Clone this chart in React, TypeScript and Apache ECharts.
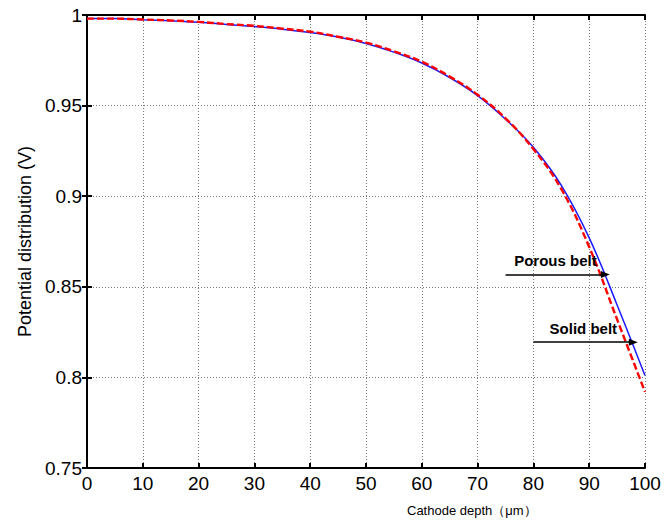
import React, { useEffect, useRef } from "react";
import * as echarts from "echarts";

const depth = [0, 5, 10, 15, 20, 25, 30, 35, 40, 45, 50, 55, 60, 65, 70, 75, 80, 85, 90, 95, 100];
const blueCurve = [0.998, 0.998, 0.9974, 0.9968, 0.996, 0.9948, 0.9936, 0.9922, 0.9903, 0.9878, 0.9843, 0.9795, 0.9735, 0.9655, 0.9555, 0.9425, 0.927, 0.906, 0.877, 0.84, 0.801];
const redCurve = [0.998, 0.998, 0.9975, 0.997, 0.9962, 0.995, 0.994, 0.9925, 0.9908, 0.988, 0.9848, 0.98, 0.9742, 0.966, 0.956, 0.943, 0.926, 0.904, 0.872, 0.832, 0.792];
const xTicks = { min: 0, max: 100, interval: 10 };
const yTicks = { min: 0.75, max: 1, interval: 0.05 };
const annotations = [
  { text: "Porous belt", x0: 75, x1: 92.9, y: 0.8568 },
  { text: "Solid belt", x0: 80, x1: 97.9, y: 0.8194 },
];

const FONT = "'Liberation Sans', Arial, Helvetica, sans-serif";

export default function App() {
  const ref = useRef<HTMLDivElement>(null);
  useEffect(() => {
    document.body.style.margin = "0";
    if (!ref.current) return;
    const chart = echarts.init(ref.current, null, { renderer: "svg" });
    const axisLine = { show: true, lineStyle: { color: "#000", width: 2 } };
    const tick = { show: true, inside: true, length: 5, lineStyle: { color: "#000", width: 2 } };
    const grid = { show: true, lineStyle: { color: "#777", type: [1, 2], width: 1 } };
    chart.setOption({
      animation: false,
      backgroundColor: "#fff",
      grid: { left: 87, right: 25, top: 15, bottom: 53 },
      xAxis: [
        {
          type: "value",
          ...xTicks,
          axisLine,
          axisTick: tick,
          splitLine: grid,
          axisLabel: { color: "#000", fontSize: 19, fontFamily: FONT, margin: 6 },
        },
        {
          type: "value",
          position: "top",
          ...xTicks,
          axisLine,
          axisTick: tick,
          splitLine: { show: false },
          axisLabel: { show: false },
        },
      ],
      yAxis: [
        {
          type: "value",
          ...yTicks,
          axisLine,
          axisTick: tick,
          splitLine: grid,
          axisLabel: { color: "#000", fontSize: 19, fontFamily: FONT, margin: 5 },
          name: "Potential distribution (V)",
          nameLocation: "middle",
          nameGap: 50,
          nameTextStyle: { color: "#000", fontSize: 18, fontFamily: FONT },
        },
        {
          type: "value",
          position: "right",
          ...yTicks,
          axisLine,
          axisTick: tick,
          splitLine: { show: false },
          axisLabel: { show: false },
        },
      ],
      graphic: [
        {
          type: "text",
          left: 407,
          top: 504,
          style: { text: "Cathode depth（μm）", fontSize: 13, fontFamily: FONT, fill: "#000" },
        },
      ],
      series: [
        {
          name: "Blue curve",
          type: "line",
          data: depth.map((x, i) => [x, blueCurve[i]]),
          smooth: 0.4,
          showSymbol: false,
          lineStyle: { color: "#1a1aff", width: 1.5 },
          z: 2,
        },
        {
          name: "Red curve",
          type: "line",
          data: depth.map((x, i) => [x, redCurve[i]]),
          smooth: 0.4,
          showSymbol: false,
          lineStyle: { color: "#ff0000", width: 2.4, type: [7, 3] },
          z: 3,
          markLine: {
            silent: true,
            symbol: ["none", "triangle"],
            symbolSize: [7, 9],
            lineStyle: { color: "#000", width: 1.5, type: "solid" },
            label: {
              show: true,
              position: "insideMiddleTop",
              distance: 6,
              color: "#000",
              fontSize: 15,
              fontWeight: "bold",
              fontFamily: FONT,
            },
            data: annotations.map((a) => [
              { coord: [a.x0, a.y], label: { formatter: a.text } },
              { coord: [a.x1, a.y] },
            ]),
          },
        },
      ],
    });
    return () => chart.dispose();
  }, []);
  return <div ref={ref} style={{ width: 670, height: 521 }} />;
}
